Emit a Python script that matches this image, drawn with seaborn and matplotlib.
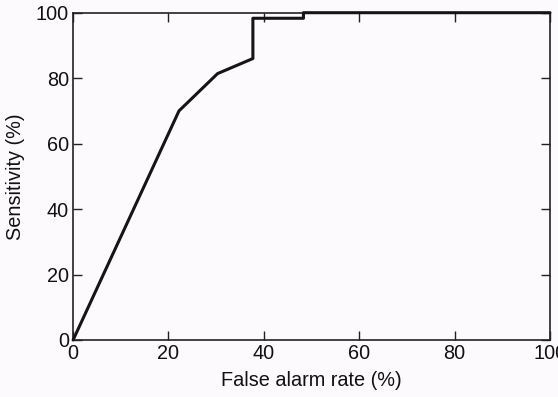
import matplotlib
matplotlib.use("Agg")
import matplotlib.pyplot as plt
import seaborn as sns
import pandas as pd

# ROC operating points (false alarm rate vs sensitivity, in %)
false_alarm = [0, 22.2, 30.3, 37.7, 37.7, 48.3, 48.3, 100]
sensitivity = [0, 70.0, 81.4, 86.0, 98.3, 98.3, 100, 100]
ticks = [0, 20, 40, 60, 80, 100]

sns.set_theme(style="ticks")
plt.rcParams["font.family"] = ["Liberation Sans", "DejaVu Sans"]

bg = "#fcfafd"
fig = plt.figure(figsize=(5.58, 3.97), dpi=100, facecolor=bg)
ax = fig.add_axes([0.131, 0.1436, 0.8547, 0.8244], facecolor=bg)

df = pd.DataFrame({"far": false_alarm, "sens": sensitivity})
sns.lineplot(data=df, x="far", y="sens", sort=False, estimator=None,
             color="#151515", linewidth=2.2, ax=ax)
for ln in ax.get_lines():
    ln.set_clip_on(False)
    ln.set_zorder(5)

ax.set_xlim(0, 100)
ax.set_ylim(0, 100)
ax.set_xticks(ticks)
ax.set_yticks(ticks)
ax.set_xlabel("False alarm rate (%)", fontsize=14.3, color="#111111", labelpad=6)
ax.set_ylabel("Sensitivity (%)", fontsize=14.3, color="#111111", labelpad=8)
ax.tick_params(direction="in", length=6.5, width=1.0, top=True, right=True,
               labelsize=14.3, labelcolor="#111111", color="#222222", pad=3)
for s in ax.spines.values():
    s.set_visible(True)
    s.set_linewidth(1.2)
    s.set_color("#222222")

fig.savefig("out.png", dpi=100, facecolor=bg)
